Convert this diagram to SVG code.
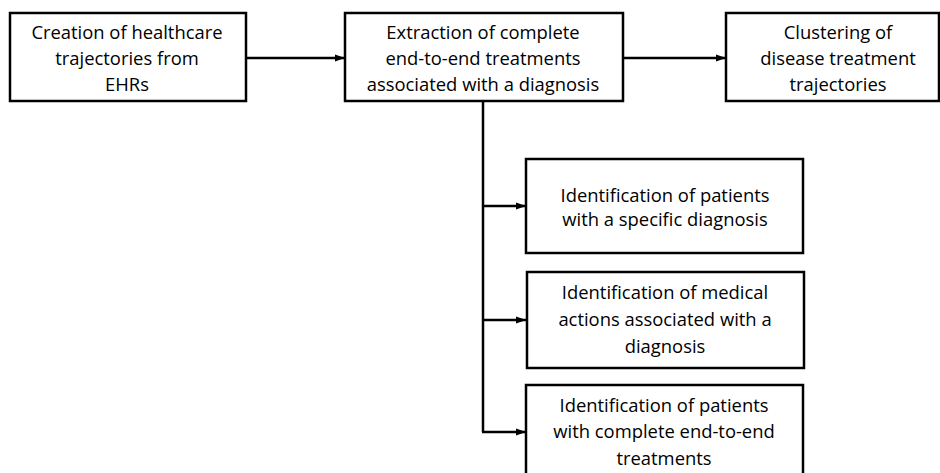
<svg xmlns="http://www.w3.org/2000/svg" width="940" height="473" viewBox="0 0 940 473">
  <defs>
    <marker id="arr" markerUnits="userSpaceOnUse" markerWidth="10" markerHeight="8" refX="10" refY="4" orient="auto">
      <path d="M0,0.5 L10,4 L0,7.5 z" fill="#000"/>
    </marker>
    <style>
      .box { fill: #fff; stroke: #000; stroke-width: 2.5; }
      .lbl { font-family: "Open Sans", "Liberation Sans", sans-serif; font-size: 18.4px; fill: #000; text-anchor: middle; }
      .con { fill: none; stroke: #000; stroke-width: 2.5; }
    </style>
  </defs>
  <rect width="940" height="473" fill="#fff"/>

  <g id="connectors">
    <line class="con" x1="246" y1="58" x2="345" y2="58" marker-end="url(#arr)"/>
    <line class="con" x1="623" y1="58" x2="726" y2="58" marker-end="url(#arr)"/>
    <line class="con" x1="483" y1="101" x2="483" y2="432"/>
    <line class="con" x1="482" y1="206" x2="526" y2="206" marker-end="url(#arr)"/>
    <line class="con" x1="482" y1="320" x2="526" y2="320" marker-end="url(#arr)"/>
    <line class="con" x1="482" y1="432" x2="526" y2="432" marker-end="url(#arr)"/>
  </g>

  <g id="node-creation">
    <rect class="box" x="10" y="13" width="236" height="88"/>
    <text class="lbl" x="127" y="39">Creation of healthcare</text>
    <text class="lbl" x="127" y="65">trajectories from</text>
    <text class="lbl" x="127" y="91">EHRs</text>
  </g>

  <g id="node-extraction">
    <rect class="box" x="345" y="13" width="278" height="88"/>
    <text class="lbl" x="483" y="39">Extraction of complete</text>
    <text class="lbl" x="483" y="65">end-to-end treatments</text>
    <text class="lbl" x="483" y="91">associated with a diagnosis</text>
  </g>

  <g id="node-clustering">
    <rect class="box" x="726" y="13" width="213" height="88"/>
    <text class="lbl" x="838" y="39">Clustering of</text>
    <text class="lbl" x="838" y="65">disease treatment</text>
    <text class="lbl" x="838" y="91">trajectories</text>
  </g>

  <g id="node-patients-diagnosis">
    <rect class="box" x="526" y="159" width="277" height="94"/>
    <text class="lbl" x="665" y="202">Identification of patients</text>
    <text class="lbl" x="665" y="226">with a specific diagnosis</text>
  </g>

  <g id="node-medical-actions">
    <rect class="box" x="527" y="272" width="277" height="96"/>
    <text class="lbl" x="665" y="299">Identification of medical</text>
    <text class="lbl" x="665" y="326">actions associated with a</text>
    <text class="lbl" x="665" y="353">diagnosis</text>
  </g>

  <g id="node-complete-treatments">
    <rect class="box" x="526" y="385" width="277" height="93"/>
    <text class="lbl" x="664" y="412">Identification of patients</text>
    <text class="lbl" x="664" y="438">with complete end-to-end</text>
    <text class="lbl" x="664" y="465">treatments</text>
  </g>
</svg>
